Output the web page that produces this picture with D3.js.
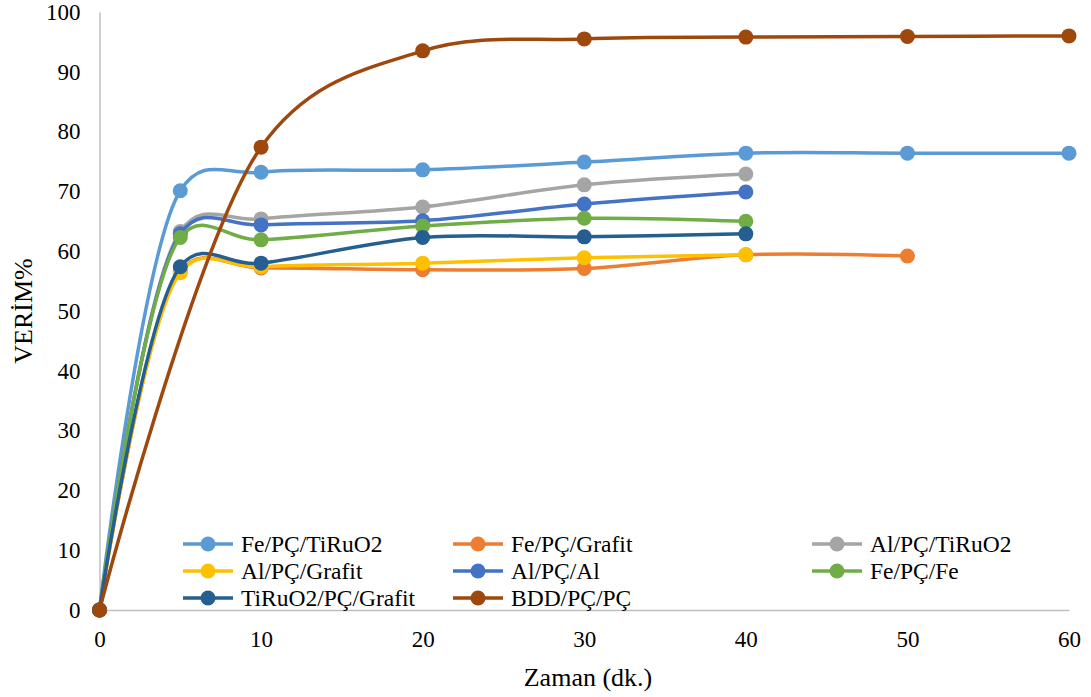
<!DOCTYPE html>
<html>
<head>
<meta charset="utf-8">
<script src="https://cdn.jsdelivr.net/npm/d3@7"></script>
</head>
<body style="margin:0;background:#fff">
<svg id="chart" width="1091" height="697" style="font-family:'Liberation Serif'"></svg>
<script>
// Time points (minutes)
const times = [0, 5, 10, 20, 30, 40, 50, 60];
const timesBDD = [0, 10, 20, 30, 40, 50, 60];

// Efficiency (%) per electrode configuration
const feTiRuO2   = [0, 70.1, 73.2, 73.6, 74.9, 76.4, 76.4, 76.4];
const feGrafit   = [0, 56.6, 57.2, 56.9, 57.1, 59.4, 59.2];
const alTiRuO2   = [0, 63.3, 65.4, 67.4, 71.1, 72.9];
const alGrafit   = [0, 56.4, 57.4, 58.0, 58.9, 59.4];
const alAl       = [0, 62.9, 64.4, 65.1, 67.9, 69.9];
const feFe       = [0, 62.3, 61.9, 64.2, 65.5, 65.0];
const tiGrafit   = [0, 57.4, 58.0, 62.3, 62.4, 62.9];
const bddPC      = [0, 77.4, 93.5, 95.5, 95.8, 95.9, 96.0];

const seriesNames = ["Fe/PÇ/TiRuO2", "Fe/PÇ/Grafit", "Al/PÇ/TiRuO2", "Al/PÇ/Grafit",
                     "Al/PÇ/Al", "Fe/PÇ/Fe", "TiRuO2/PÇ/Grafit", "BDD/PÇ/PÇ"];
const seriesColors = ["#5B9BD5", "#ED7D31", "#A5A5A5", "#FFC000",
                      "#4472C4", "#70AD47", "#255E91", "#9E480E"];
const seriesValues = [feTiRuO2, feGrafit, alTiRuO2, alGrafit, alAl, feFe, tiGrafit, bddPC];
const seriesTimes  = [times, times, times, times, times, times, times, timesBDD];

const xTicks = [0, 10, 20, 30, 40, 50, 60];
const yTicks = [0, 10, 20, 30, 40, 50, 60, 70, 80, 90, 100];

const svg = d3.select("#chart");
const x = d3.scaleLinear().domain([0, 60]).range([99.5, 1069]);
const y = d3.scaleLinear().domain([0, 100]).range([610, 12]);

// Axes (lines only, no tick marks)
const axisColor = "#BFBFBF";
const xAxis = svg.append("g").attr("transform", `translate(0,${y(0)})`)
  .call(d3.axisBottom(x).tickValues(xTicks).tickSize(0).tickPadding(21));
const yAxis = svg.append("g").attr("transform", `translate(${x(0)},0)`)
  .call(d3.axisLeft(y).tickValues(yTicks).tickSize(0).tickPadding(19));
[xAxis, yAxis].forEach(g => {
  g.attr("font-family", "Liberation Serif").attr("font-size", 23);
  g.select(".domain").attr("stroke", axisColor).attr("stroke-width", 1.5);
  g.selectAll("text").attr("fill", "#000").style("font-family", "'Liberation Serif'");
});

// Axis titles
svg.append("text").attr("x", 588).attr("y", 686).attr("text-anchor", "middle")
  .attr("font-family", "Liberation Serif").style("font-family", "'Liberation Serif'")
  .attr("font-size", 26).text("Zaman (dk.)");
svg.append("text").attr("transform", `translate(32,${y(50)}) rotate(-90)`)
  .attr("text-anchor", "middle").attr("font-family", "Liberation Serif")
  .style("font-family", "'Liberation Serif'").attr("font-size", 26).text("VERİM%");

// Smoothed series lines with markers
const line = d3.line()
  .x(d => x(d[0])).y(d => y(d[1]))
  .curve(d3.curveCatmullRom.alpha(0.3));

seriesNames.forEach((name, i) => {
  const pts = seriesValues[i].map((v, j) => [seriesTimes[i][j], v]);
  const g = svg.append("g");
  g.append("path").datum(pts).attr("d", line)
    .attr("fill", "none").attr("stroke", seriesColors[i])
    .attr("stroke-width", 3.5).attr("stroke-linejoin", "round").attr("stroke-linecap", "round");
  g.selectAll("circle").data(pts).join("circle")
    .attr("cx", d => x(d[0])).attr("cy", d => y(d[1])).attr("r", 7.5)
    .attr("fill", seriesColors[i]);
});

// Legend: 3 columns x 3 rows
const legCols = [183, 453, 812];
const legRows = [544, 571, 598];
seriesNames.forEach((name, i) => {
  const cx = legCols[i % 3], cy = legRows[Math.floor(i / 3)];
  const g = svg.append("g").attr("transform", `translate(${cx},${cy})`);
  g.append("line").attr("x1", 0).attr("x2", 50).attr("y1", 0).attr("y2", 0)
    .attr("stroke", seriesColors[i]).attr("stroke-width", 3.5);
  g.append("circle").attr("cx", 25).attr("cy", 0).attr("r", 7.5).attr("fill", seriesColors[i]);
  g.append("text").attr("x", 58).attr("y", 0).attr("dy", "0.35em")
    .attr("font-family", "Liberation Serif").style("font-family", "'Liberation Serif'")
    .attr("font-size", 23.5).text(name);
});
</script>
</body>
</html>
